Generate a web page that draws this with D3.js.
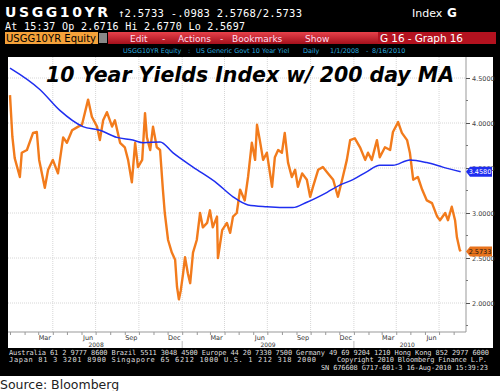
<!DOCTYPE html>
<html>
<head>
<meta charset="utf-8">
<script src="https://cdn.jsdelivr.net/npm/d3@7"></script>
<style>
  body { margin: 0; background: #fff; }
  svg { display: block; }
</style>
</head>
<body>
<div id="chart"></div>
<script>
// 10 year yield (orange)
const yieldDates = [
  "2008-01-01","2008-01-06","2008-01-11","2008-01-22","2008-01-26","2008-02-06","2008-02-19","2008-02-27",
  "2008-03-03","2008-03-15","2008-03-22","2008-04-01","2008-04-12","2008-04-23","2008-05-01","2008-05-12",
  "2008-05-25","2008-06-02","2008-06-15","2008-06-23","2008-07-04","2008-07-10","2008-07-17","2008-07-25",
  "2008-08-05","2008-08-11","2008-08-22","2008-09-01","2008-09-08","2008-09-16","2008-09-23","2008-09-29",
  "2008-10-08","2008-10-14","2008-10-18","2008-10-25","2008-10-31","2008-11-08","2008-11-15","2008-11-21",
  "2008-11-25","2008-12-02","2008-12-10","2008-12-17","2008-12-21","2008-12-25","2008-12-29","2009-01-03",
  "2009-01-07","2009-01-13","2009-01-18","2009-01-24","2009-02-01","2009-02-08","2009-02-14","2009-02-23",
  "2009-03-01","2009-03-07","2009-03-16","2009-03-18","2009-03-27","2009-04-06","2009-04-13","2009-04-19",
  "2009-04-27","2009-05-04","2009-05-14","2009-05-21","2009-05-29","2009-06-05","2009-06-09","2009-06-15",
  "2009-06-22","2009-06-30","2009-07-11","2009-07-17","2009-07-24","2009-08-01","2009-08-07","2009-08-14",
  "2009-08-22","2009-08-29","2009-09-04","2009-09-13","2009-09-23","2009-09-30","2009-10-06","2009-10-17",
  "2009-10-27","2009-11-07","2009-11-18","2009-11-28","2009-12-07","2009-12-17","2009-12-24","2010-01-03",
  "2010-01-14","2010-01-25","2010-01-31","2010-02-08","2010-02-19","2010-02-25","2010-03-08","2010-03-19",
  "2010-03-25","2010-04-05","2010-04-13","2010-04-24","2010-04-30","2010-05-07","2010-05-17","2010-05-26",
  "2010-06-05","2010-06-16","2010-06-27","2010-07-03","2010-07-14","2010-07-20","2010-07-28","2010-08-04",
  "2010-08-08","2010-08-14","2010-08-16"
];
const yieldValues = [
  4.31,3.85,3.61,3.40,3.67,3.70,3.89,3.90,
  3.59,3.28,3.48,3.59,3.44,3.84,3.78,3.92,
  3.96,3.98,4.26,4.07,3.96,3.81,4.03,4.12,
  3.96,4.03,3.78,3.73,3.59,3.34,3.78,3.51,
  3.59,4.11,3.84,3.70,3.96,3.73,3.70,3.26,
  3.00,2.70,2.56,2.48,2.18,2.04,2.14,2.33,
  2.51,2.33,2.22,2.56,2.70,3.00,2.84,2.89,
  3.03,2.84,2.96,2.50,2.81,2.89,2.78,2.96,
  3.00,3.26,3.14,3.40,3.78,3.59,3.98,3.81,
  3.59,3.67,3.29,3.62,3.70,3.67,3.89,3.56,
  3.40,3.48,3.29,3.44,3.37,3.18,3.29,3.48,
  3.51,3.44,3.37,3.18,3.37,3.59,3.81,3.83,
  3.73,3.59,3.67,3.59,3.81,3.62,3.73,3.70,
  3.90,4.01,3.89,3.81,3.67,3.37,3.40,3.26,
  3.14,3.11,2.96,2.92,3.00,2.92,3.07,2.92,
  2.73,2.59,2.5733
];

// 200 day moving average (blue)
const maDates = [
  "2008-01-01","2008-03-05","2008-04-16","2008-06-04","2008-07-10","2008-08-15","2008-09-18","2008-10-10",
  "2008-11-15","2008-12-12","2009-01-24","2009-03-16","2009-04-19","2009-05-21","2009-06-30","2009-08-24",
  "2009-09-23","2009-11-05","2009-12-02","2009-12-30","2010-01-29","2010-02-25","2010-03-25","2010-04-30",
  "2010-06-05","2010-07-09","2010-08-16"
];
const maValues = [
  4.61,4.37,4.14,3.96,3.92,3.84,3.81,3.78,
  3.79,3.67,3.51,3.33,3.18,3.09,3.07,3.06,
  3.12,3.23,3.31,3.37,3.46,3.53,3.53,3.59,
  3.56,3.51,3.458
];

// axis ticks
const yTicks = [2.0, 2.5, 3.0, 3.5, 4.0, 4.5];
const yMinorTicks = [1.75, 2.25, 2.75, 3.25, 3.75, 4.25];
const gridDates = ["2008-04-01","2008-07-01","2008-10-01","2009-01-01","2009-04-01","2009-07-01",
  "2009-10-01","2010-01-01","2010-04-01","2010-07-01"];
const monthLabelDates = ["2008-03-15","2008-06-15","2008-09-15","2008-12-15","2009-03-15","2009-06-15",
  "2009-09-15","2009-12-15","2010-03-15","2010-06-15"];
const yearLabels = ["2008", "2009", "2010"];

const parse = d3.timeParse("%Y-%m-%d");
const yieldData = yieldDates.map((d, i) => ({ date: parse(d), value: yieldValues[i] }));
const maData = maDates.map((d, i) => ({ date: parse(d), value: maValues[i] }));

const width = 500, height = 391;
const plot = { left: 8, right: 466, top: 57, bottom: 332 };

const svg = d3.select("#chart").append("svg").attr("width", width).attr("height", height);

// Bloomberg terminal frame
svg.append("rect").attr("x", 0).attr("y", 0).attr("width", width).attr("height", 376).attr("fill", "#000");
svg.append("rect").attr("x", plot.left).attr("y", plot.top)
  .attr("width", 493 - plot.left).attr("height", 348 - plot.top).attr("fill", "#fff");

const mono = "'DejaVu Sans Mono', monospace";
const sans = "'DejaVu Sans', Verdana, sans-serif";

// header lines
svg.append("text").attr("x", 5).attr("y", 16.5).attr("fill", "#fff")
  .style("font-family", sans).style("font-weight", "bold").style("font-size", "14px")
  .attr("textLength", 103).text("USGG10YR");
svg.append("text").attr("x", 118).attr("y", 16.5).attr("fill", "#fff")
  .style("font-family", mono).style("font-size", "10.5px")
  .attr("textLength", 184).text("↑2.5733 -.0983  2.5768/2.5733");
svg.append("text").attr("x", 412).attr("y", 16.5).attr("fill", "#fff")
  .style("font-family", sans).style("font-size", "11px").text("Index");
svg.append("text").attr("x", 447).attr("y", 16.5).attr("fill", "#fff")
  .style("font-family", sans).style("font-weight", "bold").style("font-size", "12px").text("G");
svg.append("text").attr("x", 5).attr("y", 30).attr("fill", "#fff")
  .style("font-family", mono).style("font-size", "10px")
  .attr("textLength", 240).text("At 15:37  Op 2.6716 Hi 2.6770 Lo 2.5697");

// toolbar
const grad = svg.append("defs").append("linearGradient").attr("id", "red").attr("x1", 0).attr("x2", 0).attr("y1", 0).attr("y2", 1);
grad.append("stop").attr("offset", "0%").attr("stop-color", "#e8414a");
grad.append("stop").attr("offset", "100%").attr("stop-color", "#a4101c");
svg.append("rect").attr("x", 108).attr("y", 32).attr("width", 388).attr("height", 12).attr("fill", "url(#red)");
svg.append("rect").attr("x", 378).attr("y", 32).attr("width", 118).attr("height", 12).attr("fill", "#b3121f");
svg.append("rect").attr("x", 5).attr("y", 32).attr("width", 93).attr("height", 12).attr("fill", "#f5a23a");
svg.append("rect").attr("x", 99).attr("y", 33).attr("width", 8).attr("height", 10).attr("fill", "#888");
svg.append("text").attr("x", 6).attr("y", 42).attr("fill", "#000")
  .style("font-family", sans).style("font-size", "10px").attr("textLength", 90).text("USGG10YR Equity");
const menu = [["Edit", 130], ["-", 162], ["Actions", 178], ["-", 220], ["Bookmarks", 232], ["Show", 305]];
menu.forEach(([t, x]) => {
  svg.append("text").attr("x", x).attr("y", 41.5).attr("fill", "#fde")
    .style("font-family", sans).style("font-size", "9px").text(t);
});
svg.append("text").attr("x", 380).attr("y", 42).attr("fill", "#fff")
  .style("font-family", sans).style("font-size", "10.5px").attr("textLength", 83).text("G 16 - Graph 16");

// security strip
const strip = [["USGG10YR Equity", 123], [":", 188], ["US Generic Govt 10 Year Yiel", 196], ["Daily", 303],
  ["1/1/2008", 330], ["-", 366], ["8/16/2010", 372]];
strip.forEach(([t, x]) => {
  svg.append("text").attr("x", x).attr("y", 53).attr("fill", "#2aa9df")
    .style("font-family", sans).style("font-size", "6.5px").text(t);
});

const x = d3.scaleTime().domain([parse("2008-01-01"), parse("2010-08-16")]).range([10, 460.7]);
const y = d3.scaleLinear().domain([2.0, 4.5]).range([303, 78]);

// gridlines
svg.append("g").selectAll("line").data(yTicks).join("line")
  .attr("x1", plot.left).attr("x2", plot.right).attr("y1", (d) => y(d)).attr("y2", (d) => y(d))
  .attr("stroke", "#d6d6d6").attr("stroke-dasharray", "1,1");
svg.append("g").selectAll("line").data(gridDates.map(parse)).join("line")
  .attr("x1", (d) => x(d)).attr("x2", (d) => x(d)).attr("y1", plot.top).attr("y2", plot.bottom)
  .attr("stroke", "#d6d6d6").attr("stroke-dasharray", "1,1");

// title
svg.append("text").attr("x", 250).attr("y", 82).attr("text-anchor", "middle")
  .style("font-family", sans).style("font-weight", "bold").style("font-style", "italic")
  .style("font-size", "20.5px").attr("fill", "#000")
  .attr("textLength", 408).text("10 Year Yields Index w/ 200 day MA");

// series
svg.append("clipPath").attr("id", "clip").append("rect")
  .attr("x", plot.left).attr("y", plot.top).attr("width", plot.right - plot.left).attr("height", plot.bottom - plot.top);
const line = d3.line().x((d) => x(d.date)).y((d) => y(d.value));
svg.append("path").datum(yieldData).attr("d", line).attr("clip-path", "url(#clip)")
  .attr("fill", "none").attr("stroke", "#f27b1c").attr("stroke-width", 2.4).attr("stroke-linejoin", "round");
svg.append("path").datum(maData).attr("d", line.curve(d3.curveMonotoneX)).attr("clip-path", "url(#clip)")
  .attr("fill", "none").attr("stroke", "#1f2ef0").attr("stroke-width", 1.5);

// bottom axis
const xAxis = svg.append("g").attr("transform", `translate(0,${plot.bottom})`)
  .call(d3.axisBottom(x).ticks(d3.timeMonth.every(1)).tickSize(3).tickFormat(""));
xAxis.select(".domain").attr("d", `M${plot.left},0H${plot.right}`).attr("stroke", "#999");
xAxis.selectAll(".tick line").attr("stroke", "#999");
svg.append("g").selectAll("text").data(monthLabelDates.map(parse)).join("text")
  .attr("x", (d) => x(d)).attr("y", 340).attr("text-anchor", "middle")
  .style("font-family", sans).style("font-size", "6.5px").attr("fill", "#333")
  .text(d3.timeFormat("%b"));
// year row
const yearStarts = yearLabels.map((yr) => parse(`${yr}-01-01`));
svg.append("g").selectAll("line").data(yearStarts.slice(1)).join("line")
  .attr("x1", (d) => x(d)).attr("x2", (d) => x(d)).attr("y1", 341).attr("y2", 348).attr("stroke", "#bbb");
svg.append("g").selectAll("text").data(yearLabels).join("text")
  .attr("x", (d, i) => {
    const a = Math.max(x(yearStarts[i]), x.range()[0]);
    const b = i < yearLabels.length - 1 ? x(yearStarts[i + 1]) : x.range()[1];
    return (a + b) / 2;
  })
  .attr("y", 347).attr("text-anchor", "middle")
  .style("font-family", sans).style("font-size", "6px").attr("fill", "#333").text((d) => d);

// right axis
const yAxis = svg.append("g").attr("transform", `translate(${plot.right},0)`)
  .call(d3.axisRight(y).tickValues(yTicks).tickSize(4).tickPadding(2).tickFormat(d3.format(".4f")));
yAxis.select(".domain").attr("d", `M0,${plot.top}V${plot.bottom}`).attr("stroke", "#999");
yAxis.selectAll(".tick line").attr("stroke", "#555");
yAxis.selectAll(".tick text").style("font-family", sans).style("font-size", "6.5px").attr("fill", "#444");
svg.append("g").selectAll("line").data(yMinorTicks).join("line")
  .attr("x1", plot.right).attr("x2", plot.right + 2).attr("y1", (d) => y(d)).attr("y2", (d) => y(d))
  .attr("stroke", "#777");

// last value tags (they sit over the axis labels, as on the terminal)
const tags = [
  { value: maValues[maValues.length - 1], fill: "#1f2ef0", text: "#fff" },
  { value: yieldValues[yieldValues.length - 1], fill: "#e8731c", text: "#111" }
];
tags.forEach((t) => {
  const ty = y(t.value);
  svg.append("path")
    .attr("d", `M${plot.right},${ty}L${plot.right + 4},${ty - 5}H492V${ty + 5}H${plot.right + 4}Z`)
    .attr("fill", t.fill);
  svg.append("text").attr("x", 480).attr("y", ty + 2.5).attr("text-anchor", "middle")
    .style("font-family", sans).style("font-size", "6.5px").attr("fill", t.text)
    .text(d3.format(".4f")(t.value));
});

// footer
const footer = [
  ["Australia 61 2 9777 8600 Brazil 5511 3048 4500 Europe 44 20 7330 7500 Germany 49 69 9204 1210 Hong Kong 852 2977 6000", 9, 355, 480],
  ["Japan 81 3 3201 8900      Singapore 65 6212 1000      U.S. 1 212 318 2000", 9, 362, 307],
  ["Copyright 2010 Bloomberg Finance L.P.", 337, 362, 150],
  ["SN 676608 G717-601-3 16-Aug-2010 15:39:23", 321, 370, 167]
];
footer.forEach(([t, fx, fy, len]) => {
  svg.append("text").attr("x", fx).attr("y", fy).attr("fill", "#ddd")
    .style("font-family", mono).style("font-size", "7px").attr("textLength", len).text(t);
});

svg.append("text").attr("x", 0).attr("y", 389).attr("fill", "#222")
  .style("font-family", sans).style("font-size", "12.5px").text("Source: Bloomberg");
</script>
</body>
</html>
